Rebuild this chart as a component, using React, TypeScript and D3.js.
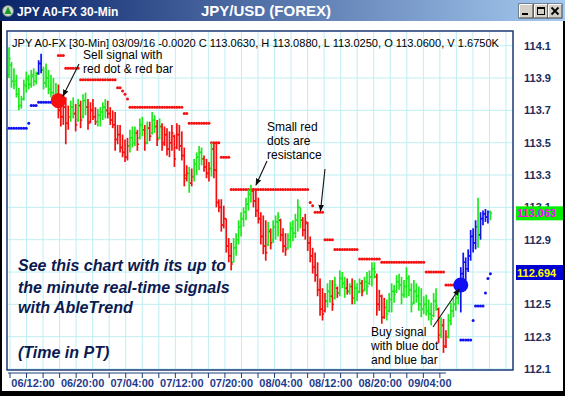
import React from "react";
import * as d3 from "d3";

// ---------- data ----------
const highs = [
  114.09,114.00,113.96,113.92,113.84,113.79,113.89,113.94,113.92,113.95,
  113.96,113.94,114.01,114.05,113.97,113.99,113.95,113.92,113.90,113.87,
  113.86,113.79,113.76,113.78,113.73,113.76,113.78,113.74,113.77,113.76,
  113.80,113.81,113.77,113.75,113.77,113.72,113.71,113.72,113.75,113.77,
  113.76,113.72,113.70,113.69,113.61,113.61,113.55,113.52,113.53,113.58,
  113.60,113.60,113.58,113.65,113.66,113.61,113.63,113.63,113.69,113.67,
  113.64,113.65,113.62,113.60,113.59,113.57,113.61,113.55,113.62,113.61,
  113.57,113.47,113.36,113.35,113.34,113.40,113.44,113.48,113.47,113.42,
  113.40,113.38,113.50,113.50,113.50,113.15,113.15,113.11,113.03,112.91,
  112.88,112.91,112.94,113.02,113.07,113.10,113.16,113.21,113.24,113.22,
  113.21,113.16,113.07,113.05,113.02,113.01,112.97,113.02,113.05,113.07,
  113.03,112.97,112.94,112.94,113.01,113.02,113.06,113.15,113.10,113.04,
  113.06,113.01,112.92,112.85,112.82,112.76,112.66,112.60,112.57,112.63,
  112.65,112.65,112.67,112.61,112.71,112.70,112.67,112.66,112.63,112.66,
  112.65,112.63,112.66,112.65,112.67,112.70,112.71,112.76,112.76,112.69,
  112.59,112.56,112.54,112.53,112.57,112.63,112.62,112.68,112.69,112.67,
  112.65,112.73,112.68,112.63,112.65,112.63,112.61,112.60,112.55,112.56,
  112.53,112.51,112.57,112.60,112.48,112.42,112.41,112.34,112.44,112.51,
  112.54,112.57,112.65,112.73,112.82,112.79,112.84,112.96,112.97,113.02,
  113.16,113.07,113.08,113.09,113.08,113.08,
];
const lows = [
  113.90,113.84,113.83,113.78,113.70,113.71,113.76,113.81,113.83,113.84,
  113.85,113.86,113.92,113.93,113.83,113.84,113.80,113.78,113.74,113.73,
  113.65,113.60,113.61,113.49,113.58,113.63,113.65,113.57,113.63,113.59,
  113.65,113.67,113.58,113.62,113.64,113.61,113.60,113.60,113.64,113.65,
  113.65,113.61,113.59,113.45,113.49,113.44,113.41,113.38,113.39,113.44,
  113.47,113.48,113.45,113.52,113.54,113.45,113.49,113.51,113.55,113.56,
  113.48,113.52,113.45,113.48,113.42,113.41,113.45,113.35,113.46,113.45,
  113.39,113.23,113.26,113.19,113.23,113.26,113.30,113.33,113.36,113.32,
  113.28,113.26,113.29,113.28,113.10,113.07,112.95,112.97,112.82,112.76,
  112.71,112.76,112.80,112.87,112.92,112.98,113.02,113.08,113.13,113.10,
  113.04,113.00,112.87,112.81,112.77,112.86,112.84,112.88,112.90,112.92,
  112.89,112.82,112.80,112.84,112.85,112.89,112.91,112.95,112.97,112.92,
  112.90,112.83,112.76,112.69,112.64,112.55,112.43,112.40,112.45,112.48,
  112.51,112.46,112.53,112.54,112.55,112.60,112.54,112.56,112.56,112.50,
  112.50,112.52,112.57,112.55,112.58,112.56,112.62,112.61,112.66,112.43,
  112.46,112.38,112.41,112.40,112.45,112.45,112.51,112.57,112.59,112.50,
  112.54,112.54,112.55,112.45,112.50,112.51,112.46,112.42,112.44,112.43,
  112.40,112.37,112.42,112.46,112.26,112.29,112.20,112.23,112.29,112.37,
  112.42,112.46,112.50,112.45,112.61,112.65,112.70,112.77,112.82,112.84,
  112.85,112.90,112.99,113.01,113.00,113.02,
];
const opens = [
  113.92,113.98,113.88,113.88,113.80,113.73,113.77,113.85,113.89,113.86,
  113.91,113.88,113.93,113.99,113.95,113.87,113.90,113.83,113.81,113.77,
  113.80,113.70,113.66,113.72,113.62,113.66,113.72,113.68,113.64,113.73,
  113.66,113.76,113.72,113.63,113.70,113.66,113.63,113.67,113.69,113.72,
  113.70,113.68,113.64,113.61,113.52,113.55,113.47,113.44,113.41,113.48,
  113.53,113.50,113.56,113.53,113.61,113.58,113.50,113.59,113.56,113.64,
  113.60,113.53,113.60,113.50,113.55,113.46,113.50,113.54,113.47,113.55,
  113.48,113.42,113.30,113.31,113.25,113.29,113.37,113.41,113.44,113.40,
  113.35,113.31,113.34,113.46,113.33,113.13,113.10,112.99,113.03,112.86,
  112.80,112.76,112.85,112.90,112.98,113.03,113.07,113.12,113.18,113.20,
  113.14,113.08,113.03,112.92,112.86,112.87,112.95,112.90,112.98,113.01,
  113.02,112.93,112.86,112.85,112.90,112.97,112.94,113.02,113.10,113.02,
  112.96,113.00,112.88,112.80,112.73,112.68,112.59,112.47,112.46,112.52,
  112.58,112.55,112.54,112.60,112.57,112.66,112.63,112.60,112.58,112.61,
  112.54,112.60,112.58,112.63,112.59,112.64,112.63,112.67,112.72,112.67,
  112.50,112.55,112.42,112.48,112.46,112.53,112.58,112.58,112.64,112.62,
  112.56,112.61,112.66,112.59,112.51,112.58,112.55,112.50,112.47,112.50,
  112.46,112.44,112.43,112.52,112.47,112.31,112.37,112.24,112.30,112.40,
  112.46,112.50,112.54,112.58,112.69,112.76,112.72,112.80,112.92,112.88,
  112.98,112.93,113.03,113.06,113.04,113.07,
];
const closes = [
  114.02,113.88,113.86,113.80,113.73,113.77,113.86,113.90,113.86,113.92,
  113.88,113.92,113.99,113.95,113.87,113.90,113.83,113.81,113.77,113.80,
  113.70,113.66,113.72,113.62,113.66,113.72,113.68,113.61,113.73,113.64,
  113.76,113.72,113.62,113.70,113.66,113.63,113.67,113.69,113.72,113.70,
  113.68,113.64,113.61,113.52,113.55,113.47,113.44,113.41,113.48,113.53,
  113.50,113.56,113.49,113.61,113.58,113.50,113.59,113.54,113.64,113.60,
  113.52,113.60,113.49,113.55,113.46,113.50,113.56,113.40,113.55,113.48,
  113.42,113.28,113.31,113.25,113.29,113.37,113.41,113.44,113.40,113.35,
  113.31,113.34,113.46,113.33,113.13,113.10,112.99,113.03,112.86,112.80,
  112.75,112.85,112.90,112.98,113.03,113.07,113.12,113.18,113.20,113.14,
  113.08,113.03,112.92,112.86,112.82,112.96,112.88,112.98,113.01,113.04,
  112.93,112.86,112.84,112.90,112.97,112.94,113.02,113.10,113.02,112.96,
  113.01,112.88,112.80,112.73,112.68,112.59,112.47,112.44,112.52,112.58,
  112.55,112.50,112.62,112.57,112.66,112.63,112.60,112.58,112.61,112.54,
  112.60,112.57,112.63,112.58,112.64,112.61,112.67,112.72,112.70,112.50,
  112.55,112.42,112.48,112.44,112.53,112.58,112.56,112.64,112.62,112.56,
  112.61,112.66,112.59,112.50,112.58,112.55,112.50,112.47,112.50,112.46,
  112.44,112.41,112.52,112.49,112.31,112.37,112.24,112.30,112.40,112.46,
  112.50,112.54,112.61,112.69,112.76,112.72,112.80,112.92,112.88,112.98,
  112.93,113.03,113.06,113.04,113.07,113.063,
];
// g = neutral/green, r = sell trend (red), b = buy trend (blue)
const barSignals = (
  "gggggggggggg" + "bb" + "gggggg" + "rrrrr" + "gg" + "r" + "g" + "r" + "gg" +
  "rrrr" + "gggg" + "rrrrrrrrr" + "ggg" + "r" + "gg" + "r" + "g" + "r" + "gg" +
  "r" + "g" + "rrrrrrrrrrr" + "g" + "r" + "gggg" + "rrr" + "g" + "rrrrrrrr" +
  "gggggggg" + "rrrrrr" + "g" + "r" + "ggg" + "rrr" + "gggggg" + "rrrrrrrrrr" +
  "gg" + "r" + "g" + "r" + "ggg" + "r" + "g" + "r" + "ggg" + "r" + "ggggg" +
  "rrrr" + "ggggggggggggggggggggg" + "r" + "g" + "rr" + "ggggg" + "bbbbbbb" +
  "g" + "bbbb" + "g"
).split("");

// stop levels (runs of bars): start bar, end bar, price, side
const stopStart = [0, 8, 9, 12, 20, 23, 29, 44, 46, 47, 48, 49, 71, 73, 82, 86, 90, 122, 123, 124, 128, 132, 142, 151, 169, 177, 183, 188, 189, 193, 194, 195];
const stopEnd   = [7, 8, 11, 19, 22, 28, 43, 45, 46, 47, 48, 70, 72, 81, 85, 89, 121, 122, 123, 127, 131, 141, 150, 168, 176, 182, 187, 188, 192, 193, 194, 195];
const stopLevel = [113.59, 113.62, 113.73, 113.75, 114.04, 113.96, 113.89, 113.84, 113.82, 113.80, 113.77, 113.72, 113.68, 113.62, 113.50, 113.41, 113.21, 113.13, 113.11, 113.07, 112.90, 112.84, 112.78, 112.76, 112.70, 112.62, 112.28, 112.40, 112.49, 112.57, 112.66, 112.69];
const stopSide  = ["s", "s", "s", "s", "r", "r", "r", "r", "r", "r", "r", "r", "r", "r", "r", "r", "r", "r", "r", "r", "r", "r", "r", "r", "r", "r", "s", "s", "s", "s", "s", "s"];

const signalBars = [20, 183];
const signalPrices = [113.76, 112.62];
const signalTypes = ["sell", "buy"];

const priceTicks = [114.1, 113.9, 113.7, 113.5, 113.3, 113.1, 112.9, 112.7, 112.5, 112.3, 112.1];
const timeLabels = ["06/12:00", "06/20:00", "07/04:00", "07/12:00", "07/20:00", "08/04:00", "08/12:00", "08/20:00", "09/04:00"];
const timeLabelHours = [0, 8, 16, 24, 32, 40, 48, 56, 64];

const lastPrice = 113.063;
const stopPrice = 112.694;

const headerText = "JPY A0-FX [30-Min] 03/09/16  -0.0020 C 113.0630, H 113.0880, L 113.0250, O 113.0600, V 1.6750K";

const COL = { g: "#1ee81e", r: "#f51010", b: "#1010f5" } as Record<string, string>;

export default function App() {
  const N = highs.length;
  const PL = 7, PR = 513, PT = 31, PB = 370;
  const x = d3.scaleLinear().domain([0, N - 1]).range([9, 490.4]);
  const y = d3.scaleLinear().domain([112.1, 114.1]).range([369, 45.7]);
  const tx = d3.scaleLinear().domain([0, 8]).range([10, 59.6]);
  const gridHours = d3.range(0, 40).map((k) => (k * 8) / 3).filter((h) => tx(h) < PR);
  const axisTickHours = d3.range(0, 27).map((k) => (k * 8) / 3);

  const stopDots: { i: number; v: number; c: string }[] = [];
  stopStart.forEach((s, k) => {
    for (let i = s; i <= stopEnd[k]; i++) stopDots.push({ i, v: stopLevel[k], c: stopSide[k] === "r" ? "#f51010" : "#1010f5" });
  });

  const arrow = (x1: number, y1: number, x2: number, y2: number, key: string) => (
    <line key={key} x1={x1} y1={y1} x2={x2} y2={y2} stroke="#111" strokeWidth={1.1} markerEnd="url(#arr)" />
  );

  return (
    <svg width={565} height={396} style={{ position: "absolute", left: 0, top: 0, display: "block" }} fontFamily="'Liberation Sans', Arial, sans-serif">
      <defs>
        <linearGradient id="tb" x1="0" x2="1" y1="0" y2="0">
          <stop offset="0" stopColor="#0a246a" />
          <stop offset="1" stopColor="#a6caf0" />
        </linearGradient>
        <clipPath id="plotClip">
          <rect x={PL} y={PT} width={PR - PL} height={PB - PT} />
        </clipPath>
        <marker id="arr" viewBox="0 0 10 10" refX="9" refY="5" markerWidth="7" markerHeight="7" orient="auto" markerUnits="userSpaceOnUse">
          <path d="M0,1 L10,5 L0,9 z" fill="#111" />
        </marker>
      </defs>
      <rect x={0} y={0} width={565} height={396} fill="#000" />
      <rect x={2} y={21} width={561} height={370} fill="#fff" />
      <rect x={0} y={0} width={565} height={21} fill="url(#tb)" />
      {/* title icon */}
      <circle cx={8} cy={11} r={5.5} fill="#cfd8cf" stroke="#6a7a6a" strokeWidth={0.8} />
      <path d="M8,6.5 L11.5,14 L4.5,14 z" fill="#1a9a2a" />
      <text x={17} y={15.5} fill="#fff" fontSize={12} fontWeight="bold">JPY A0-FX 30-Min</text>
      <text x={266} y={16} fill="#fff" fontSize={15} fontWeight="bold" textAnchor="middle">JPY/USD (FOREX)</text>
      {/* window buttons */}
      {[519, 534, 548].map((bx, k) => (
        <g key={k}>
          <rect x={bx} y={4} width={14} height={14} fill="#d4d0c8" stroke="#404040" strokeWidth={1} />
          <path d={`M${bx + 0.5},${17.5} V${4.5} H${bx + 13.5}`} stroke="#fff" fill="none" />
        </g>
      ))}
      <rect x={522} y={13} width={6} height={2} fill="#000" />
      <rect x={537.5} y={7.5} width={7} height={7} fill="none" stroke="#000" strokeWidth={1} />
      <rect x={537} y={7} width={8} height={2} fill="#000" />
      <path d="M551.5,7.5 L558.5,14.5 M558.5,7.5 L551.5,14.5" stroke="#000" strokeWidth={1.8} />

      {/* grid */}
      <g stroke="#bfeef2" strokeWidth={1}>
        {priceTicks.map((p) => (
          <line key={p} x1={PL} x2={PR} y1={y(p)} y2={y(p)} />
        ))}
        {gridHours.map((h) => (
          <line key={h} x1={tx(h)} x2={tx(h)} y1={PT} y2={PB} />
        ))}
      </g>

      <g clipPath="url(#plotClip)">
        <text x={12} y={46.5} fontSize={11} fill="#000" textLength={487} lengthAdjust="spacingAndGlyphs">{headerText}</text>
        {/* stop dots */}
        {stopDots.map((d, k) => (
          <circle key={"s" + k} cx={x(d.i)} cy={y(d.v)} r={1.5} fill={d.c} />
        ))}
        {/* bars */}
        {highs.map((h, i) => {
          const c = COL[barSignals[i]] || COL.g;
          const xi = x(i);
          return (
            <g key={"b" + i} stroke={c}>
              <line x1={xi} x2={xi} y1={y(h)} y2={y(lows[i])} strokeWidth={1.7} />
              <line x1={xi - 1.6} x2={xi} y1={y(opens[i])} y2={y(opens[i])} strokeWidth={1.6} />
              <line x1={xi} x2={xi + 1.6} y1={y(closes[i])} y2={y(closes[i])} strokeWidth={1.6} />
            </g>
          );
        })}
        {/* signal dots */}
        {signalBars.map((b, k) => (
          <circle key={"sig" + k} cx={x(b)} cy={y(signalPrices[k])} r={7.5} fill={signalTypes[k] === "sell" ? "#f51010" : "#1010f5"} />
        ))}

        {/* annotations */}
        <g fontSize={12} fill="#000">
          <text x={83} y={59}>Sell signal with</text>
          <text x={83} y={73}>red dot &amp; red bar</text>
          <text x={267} y={131}>Small red</text>
          <text x={267} y={145}>dots are</text>
          <text x={267} y={159}>resistance</text>
          <text x={371} y={336}>Buy signal</text>
          <text x={371} y={350}>with blue dot</text>
          <text x={371} y={364}>and blue bar</text>
        </g>
        {arrow(79, 64, 63, 96, "a1")}
        {arrow(267, 161, 256, 185, "a2")}
        {arrow(325, 169, 320.5, 211, "a3")}
        {arrow(433, 327, 459, 289, "a4")}
        <g fontSize={16} fontWeight="bold" fontStyle="italic" fill="#0c1a50">
          <text x={18} y={271}>See this chart with its up to</text>
          <text x={18} y={293}>the minute real-time signals</text>
          <text x={18} y={313}>with AbleTrend</text>
          <text x={18} y={358}>(Time in PT)</text>
        </g>
      </g>

      {/* plot frame */}
      <rect x={PL} y={PT} width={PR - PL} height={PB - PT} fill="none" stroke="#1b3a78" strokeWidth={1.5} />

      {/* right axis */}
      <g fontSize={11} fontWeight="bold" fill="#1b2c5e">
        {priceTicks.map((p) => (
          <text key={p} x={524} y={y(p) + 4}>{p.toFixed(1)}</text>
        ))}
      </g>
      <rect x={516} y={y(lastPrice) - 7} width={47} height={14} fill="#00f000" />
      <text x={517} y={y(lastPrice) + 4} fontSize={11} fontWeight="bold" fill="#ff00ff">{lastPrice.toFixed(3)}</text>
      <rect x={516} y={265} width={47} height={15} fill="#0000d0" />
      <text x={517} y={276.5} fontSize={11} fontWeight="bold" fill="#ffff00">{stopPrice.toFixed(3)}</text>

      {/* bottom axis */}
      <line x1={8} x2={tx(axisTickHours[axisTickHours.length - 1]) + 6} y1={373} y2={373} stroke="#1b3a78" strokeWidth={1} />
      {axisTickHours.map((h) => (
        <line key={h} x1={tx(h)} x2={tx(h)} y1={373} y2={378} stroke="#1b3a78" strokeWidth={1} />
      ))}
      <g fontSize={11} fontWeight="bold" fill="#1f3c8c" textAnchor="middle">
        {timeLabels.map((t, k) => (
          <text key={t} x={tx(timeLabelHours[k]) + 23} y={387}>{t}</text>
        ))}
      </g>
    </svg>
  );
}
